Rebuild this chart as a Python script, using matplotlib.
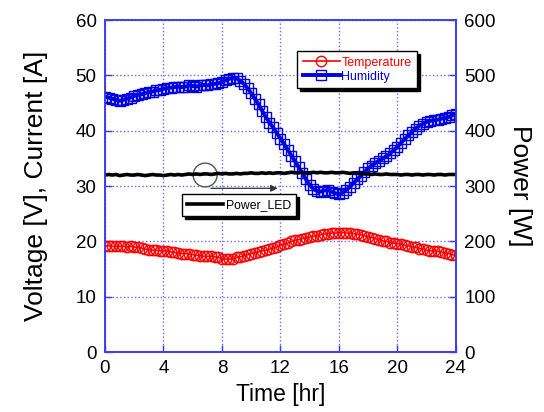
import numpy as np
import matplotlib
matplotlib.use("Agg")
import matplotlib.pyplot as plt
from matplotlib.patches import Ellipse
from matplotlib.lines import Line2D

plt.rcParams['font.family'] = ['Liberation Sans', 'DejaVu Sans']

# time axis, quarter-hour samples
time_hr = np.arange(0, 24.01, 0.25)

humidity = [
    46.2, 46.0, 45.8, 45.6, 45.4, 45.6, 45.8, 46.0, 46.3, 46.5, 46.6, 46.8,
    47.0, 47.1, 47.3, 47.4, 47.6, 47.7, 47.8, 47.9, 48.0, 47.9, 48.0, 48.2,
    48.1, 48.0, 48.2, 48.3, 48.2, 48.4, 48.5, 48.6, 48.8, 49.1, 49.4, 49.6,
    49.5, 49.0, 48.5, 47.7, 46.8, 45.8, 44.8, 43.6, 42.5, 41.5, 40.6, 39.6,
    38.6, 37.6, 36.6, 35.5, 34.5, 33.4, 32.3, 31.2, 30.2, 29.5, 29.1, 29.0,
    29.2, 29.3, 29.0, 28.7, 28.5, 28.8, 29.3, 29.9, 30.6, 31.2, 31.9, 32.6,
    33.2, 33.7, 34.2, 34.6, 35.0, 35.4, 35.9, 36.5, 37.1, 37.8, 38.5, 39.2,
    39.8, 40.4, 40.9, 41.3, 41.6, 41.8, 41.9, 42.0, 42.2, 42.3, 42.5, 42.8,
    43.1,
]

temperature = [
    19.2, 19.2, 19.1, 19.1, 19.1, 19.1, 19.0, 19.1, 19.0, 18.9, 18.8, 18.6,
    18.5, 18.4, 18.4, 18.3, 18.3, 18.2, 18.1, 18.0, 17.9, 17.8, 17.8, 17.7,
    17.6, 17.5, 17.4, 17.3, 17.3, 17.3, 17.2, 17.1, 16.9, 16.8, 16.8, 16.9,
    17.1, 17.2, 17.4, 17.6, 17.8, 17.9, 18.1, 18.3, 18.4, 18.6, 18.8, 19.0,
    19.3, 19.5, 19.7, 20.0, 20.2, 20.3, 20.5, 20.6, 20.8, 20.9, 21.0, 21.2,
    21.3, 21.4, 21.5, 21.5, 21.6, 21.6, 21.5, 21.5, 21.4, 21.3, 21.2, 21.0,
    20.8, 20.7, 20.5, 20.3, 20.1, 20.0, 19.8, 19.7, 19.6, 19.5, 19.3, 19.2,
    19.0, 18.9, 18.7, 18.6, 18.4, 18.3, 18.3, 18.2, 18.1, 17.9, 17.8, 17.6,
    17.5,
]

power_led = [
    320, 321, 320, 321, 319, 320, 321, 320, 320, 321, 320, 319,
    320, 321, 320, 320, 319, 320, 321, 320, 321, 320, 321, 322,
    321, 322, 321, 322, 322, 321, 322, 323, 322, 323, 322, 322,
    323, 322, 323, 323, 324, 323, 323, 324, 323, 324, 323, 324,
    324, 323, 324, 325, 324, 324, 325, 324, 324, 325, 324, 325,
    324, 324, 325, 324, 324, 325, 324, 323, 324, 324, 323, 322,
    322, 321, 322, 321, 321, 322, 321, 321, 321, 320, 321, 321,
    320, 321, 321, 320, 321, 321, 320, 321, 321, 320, 321, 321,
    321,
]

x_ticks = [0, 4, 8, 12, 16, 20, 24]
left_ticks = [0, 10, 20, 30, 40, 50, 60]
right_ticks = [0, 100, 200, 300, 400, 500, 600]

spine_blue = '#3c3cf0'
grid_blue = '#6a6aff'

fig = plt.figure(figsize=(5.44, 4.12), dpi=100)
ax = fig.add_axes([0.193, 0.1456, 0.645, 0.8054])
ax2 = ax.twinx()

ax.plot(time_hr, temperature, color='red', lw=1.2, marker='o', ms=7.5,
        mfc='none', mec='red', mew=1.0, label='Temperature', zorder=3)
ax.plot(time_hr, humidity, color='#0000e0', lw=2.8, marker='s', ms=7.5,
        mfc='none', mec='#0000e0', mew=1.0, label='Humidity', zorder=4)
ax2.plot(time_hr, power_led, color='black', lw=2.6, label='Power_LED')

ax.set_xlim(0, 24)
ax.set_ylim(0, 60)
ax2.set_ylim(0, 600)
ax.set_xticks(x_ticks)
ax.set_yticks(left_ticks)
ax2.set_yticks(right_ticks)

ax.grid(True, color=grid_blue, ls=':', lw=1.0)
ax.set_axisbelow(True)

for a in (ax, ax2):
    for s in a.spines.values():
        s.set_color(spine_blue)
        s.set_linewidth(1.2)
    a.tick_params(direction='in', length=5, width=1.0, color=spine_blue,
                  labelsize=13.5, labelcolor='black')
ax.tick_params(axis='x', pad=6)
ax.tick_params(axis='y', pad=6)
ax2.tick_params(axis='y', pad=6)

ax.set_xlabel('Time [hr]', fontsize=16.5, labelpad=4)
ax.set_ylabel('Voltage [V], Current [A]', fontsize=19, labelpad=20)
ax2.set_ylabel('Power [W]', fontsize=19, rotation=270, labelpad=26)

# circle marking the power trace and an arrow pointing toward the right axis
ax.add_patch(Ellipse((6.85, 32.0), 1.64, 4.3, fill=False, ec='#555555',
                     lw=1.0, zorder=5))
ax.annotate('', xy=(12.0, 29.6), xytext=(7.05, 29.6),
            arrowprops=dict(arrowstyle='-|>', color='#333333', lw=0.9,
                            mutation_scale=10), zorder=5)

h1 = [Line2D([], [], color='red', lw=1.2, marker='o', ms=7.5, mfc='none',
             mec='red', mew=1.0),
      Line2D([], [], color='#0000e0', lw=2.8, marker='s', ms=7.5, mfc='none',
             mec='#0000e0', mew=1.0)]
leg1 = ax2.legend(h1, ['Temperature', 'Humidity'], loc='upper left',
                  bbox_to_anchor=(0.547, 0.907), fontsize=9, frameon=True,
                  fancybox=False, shadow={'color': 'black', 'alpha': 1.0},
                  edgecolor='black', framealpha=1.0, borderpad=0.45,
                  labelspacing=0.15, handlelength=3.0, handletextpad=0.1,
                  borderaxespad=0.0)
leg1.get_frame().set_linewidth(1.0)
for txt, c in zip(leg1.get_texts(), ['red', '#0000e0']):
    txt.set_color(c)
ax2.add_artist(leg1)

h2 = [Line2D([], [], color='black', lw=2.6)]
leg2 = ax2.legend(h2, ['Power_LED'], loc='upper left',
                  bbox_to_anchor=(0.219, 0.476), fontsize=8.8, frameon=True,
                  fancybox=False, shadow={'color': 'black', 'alpha': 1.0},
                  edgecolor='black', framealpha=1.0, borderpad=0.4,
                  handlelength=3.0, handletextpad=0.2, borderaxespad=0.0)
leg2.get_frame().set_linewidth(1.0)

fig.savefig('out.png', dpi=100)
